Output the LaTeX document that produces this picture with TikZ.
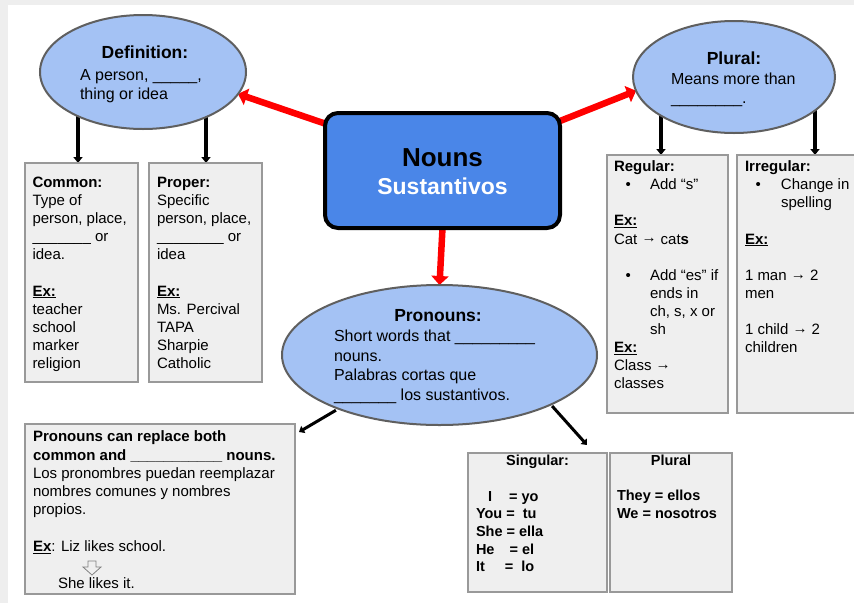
\documentclass[tikz,border=0pt]{standalone}
\usepackage{fontspec}
\setmainfont{Liberation Sans}
\usetikzlibrary{arrows.meta,shapes.geometric,backgrounds}
\definecolor{ellfill}{HTML}{A4C2F4}
\definecolor{ellline}{HTML}{5F5F5F}
\definecolor{nounfill}{HTML}{4A86E8}
\definecolor{arrred}{HTML}{FF0000}
\definecolor{boxfill}{HTML}{EFEFEF}
\definecolor{boxline}{HTML}{999999}
\definecolor{bgc}{HTML}{EEEEEE}
\newsavebox\ulbox
\newcommand\myul[1]{\sbox\ulbox{#1}\rlap{\rule[-2.2pt]{\wd\ulbox}{1.1pt}}\usebox\ulbox}
\newcommand\rarr{\raisebox{1.2pt}{→}}
\begin{document}
\begin{tikzpicture}[x=1pt,y=-1pt,
  ell/.style={ellipse, draw=ellline, fill=ellfill, line width=2pt, inner sep=0pt, outer sep=0pt},
  boxnode/.style={rectangle, draw=boxline, fill=boxfill, line width=1.2pt, inner sep=0pt, outer sep=0pt, anchor=north west},
  txt/.style={anchor=north west, inner sep=0pt, outer sep=0pt, align=left, font=\fontsize{15}{18.1}\selectfont},
  etxt/.style={anchor=north west, inner sep=0pt, outer sep=0pt, align=left, font=\fontsize{16}{19.5}\selectfont},
  hd/.style={anchor=base, inner sep=0pt, outer sep=0pt, font=\fontsize{17.5}{20}\selectfont\bfseries},
  bhd/.style={anchor=base, inner sep=0pt, outer sep=0pt, font=\fontsize{14.5}{17.7}\selectfont\bfseries},
  redarr/.style={draw=arrred, line width=6.5pt, -{Triangle[length=9pt,width=17pt]}},
  blkarr/.style={draw=black, line width=3.5pt, -{Triangle[length=6pt,width=9pt]}},
  thinarr/.style={draw=black, line width=3pt, -{Triangle[length=5pt,width=8pt]}}
]
\useasboundingbox (0,0) rectangle (854,603);

% ellipses
\node[ell, minimum width=206pt, minimum height=114pt] (def) at (143,72) {};
\node[ell, minimum width=202pt, minimum height=112pt] (plu) at (734,77) {};
\node[ell, minimum width=315pt, minimum height=140pt] (pron) at (439.5,355) {};

% central box
\node[rectangle, rounded corners=13pt, draw=black, fill=nounfill, line width=4pt,
      minimum width=235pt, minimum height=115pt, inner sep=0pt, outer sep=0pt] (nouns) at (442.5,170.5) {};
\node[anchor=base, inner sep=0pt, font=\fontsize{26}{30}\selectfont\bfseries] (nounsT) at (442.5,166) {Nouns};
\node[anchor=base, inner sep=0pt, text=white, font=\fontsize{23}{27}\selectfont\bfseries] (sustT) at (442.5,194) {Sustantivos};

% boxes
\node[boxnode, minimum width=113pt, minimum height=219pt] (common) at (25,163) {};
\node[boxnode, minimum width=113pt, minimum height=219pt] (proper) at (149,163) {};
\node[boxnode, minimum width=121pt, minimum height=258pt] (regular) at (607,155) {};
\node[boxnode, minimum width=125pt, minimum height=258pt] (irregular) at (737,155) {};
\node[boxnode, minimum width=270pt, minimum height=170pt] (bl) at (25,424) {};
\node[boxnode, minimum width=139pt, minimum height=139pt] (sing) at (468,453) {};
\node[boxnode, minimum width=122pt, minimum height=139pt] (plb) at (610,453) {};

% ellipse texts
\node[hd] (defH) at (145,58) {Definition:};
\node[etxt] (defT) at (80,66.35) {\strut A person, \_\_\_\_\_,\\ thing or idea};
\node[hd] (pluH) at (734,64) {Plural:};
\node[etxt] (pluT) at (671,70.35) {\strut Means more than\\ \_\_\_\_\_\_\_\_.};
\node[hd] (pronH) at (438,321.5) {Pronouns:};
\node[etxt] (pronT) at (334,327.85) {\strut Short words that \_\_\_\_\_\_\_\_\_\\ nouns.\\ Palabras cortas que\\ \_\_\_\_\_\_\_ los sustantivos.};

% box texts
\node[txt] (commonT) at (32.5,174.8) {\strut\textbf{Common:}\\ Type of\\ person, place,\\ \_\_\_\_\_\_\_ or\\ idea.\\ ~\\ \myul{\textbf{Ex:}}\\ teacher\\ school\\ marker\\ religion};
\node[txt] (properT) at (157,174.8) {\strut\textbf{Proper:}\\ Specific\\ person, place,\\ \_\_\_\_\_\_\_\_ or\\ idea\\ ~\\ \myul{\textbf{Ex:}}\\ Ms. Percival\\ TAPA\\ Sharpie\\ Catholic};
\node[txt] (regularT) at (614,159) {\strut\textbf{Regular:}\\
  \makebox[36pt][l]{\hspace*{11.5pt}•}Add “s”\\
  ~\\
  \myul{\textbf{Ex:}}\\
  Cat \rarr{} cat\textbf{s}\\
  ~\\
  \makebox[36pt][l]{\hspace*{11.5pt}•}Add “es” if\\
  \hspace*{36pt}ends in\\
  \hspace*{36pt}ch, s, x or\\
  \hspace*{36pt}sh\\
  \myul{\textbf{Ex:}}\\
  Class \rarr\\
  classes};
\node[txt] (irregularT) at (745,159) {\strut\textbf{Irregular:}\\
  \makebox[36pt][l]{\hspace*{10.5pt}•}Change in\\
  \hspace*{36pt}spelling\\
  ~\\
  \myul{\textbf{Ex:}}\\
  ~\\
  1 man \rarr{} 2\\
  men\\
  ~\\
  1 child \rarr{} 2\\
  children};
\node[txt, font=\fontsize{15}{18.3}\selectfont] (blT) at (33,428.9) {\strut\textbf{Pronouns can replace both}\\
  \textbf{common and \_\_\_\_\_\_\_\_\_\_\_ nouns.}\\
  Los pronombres puedan reemplazar\\
  nombres comunes y nombres\\
  propios.\\
  ~\\
  \myul{\textbf{Ex}}: Liz likes school.\\
  ~\\
  \hspace*{25pt}She likes it.};
\node[bhd] (singH) at (537.5,465) {Singular:};
\node[txt, font=\fontsize{14.5}{17.7}\selectfont\bfseries] (singT) at (476,488.6) {\strut\hspace*{12pt}I\hspace{17pt}= yo\\ You =\ \ tu\\ She = ella\\ He\hspace{15pt}= el\\ It\hspace{20pt}=\ \ lo};
\node[bhd] (plbH) at (671,465) {Plural};
\node[txt, font=\fontsize{14.5}{17.7}\selectfont\bfseries] (plbT) at (617,488.6) {\strut They = ellos\\ We = nosotros};

% hollow arrow
\draw[draw=gray, line width=0.8pt] (88,561) -- (96,561) -- (96,567) -- (101,567) -- (92,575) -- (83,567) -- (88,567) -- cycle;

% coordinates for arrow starts
\coordinate (rl) at (335,127);
\coordinate (rr) at (550,125);
\coordinate (d1) at (78,100);
\coordinate (d2) at (206,100);
\coordinate (q1) at (661,100);
\coordinate (q2) at (815,100);

\begin{pgfonlayer}{background}
\fill[bgc] (0,0) rectangle (854,603);
\fill[white] (8,5) rectangle (854,603);
\draw[redarr] (rl) -- (def.-13);
\draw[redarr] (rr) -- (plu.188);
\draw[redarr] (nouns.south) -- (pron.north);
\draw[blkarr] (d1) -- (common.north -| d1);
\draw[blkarr] (d2) -- (proper.north -| d2);
\draw[blkarr] (q1) -- (regular.north -| q1);
\draw[blkarr] (q2) -- (irregular.north -| q2);
\draw[thinarr, shorten <=3pt] (pron.208) -- ([xshift=4pt,yshift=-8pt]bl.north east);
\draw[thinarr, shorten <=2pt] (pron.-24) -- ([xshift=-20pt,yshift=8pt]sing.north east);
\end{pgfonlayer}
\end{tikzpicture}
\end{document}
